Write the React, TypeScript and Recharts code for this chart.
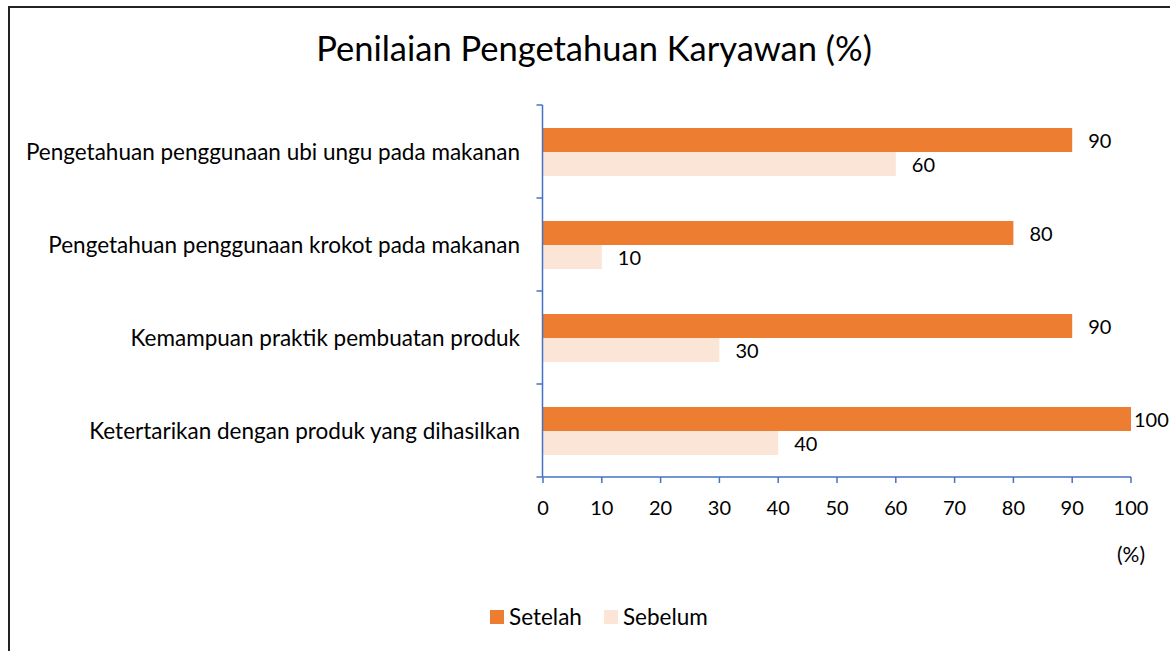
import { BarChart, Bar, XAxis, YAxis, LabelList } from 'recharts'

const categories = [
  'Pengetahuan penggunaan ubi ungu pada makanan',
  'Pengetahuan penggunaan krokot pada makanan',
  'Kemampuan praktik pembuatan produk',
  'Ketertarikan dengan produk yang dihasilkan',
]
const setelah = [90, 80, 90, 100]
const sebelum = [60, 10, 30, 40]
const xTicks = [0, 10, 20, 30, 40, 50, 60, 70, 80, 90, 100]

const series = [
  { key: 'setelah', name: 'Setelah', color: '#ED7D31' },
  { key: 'sebelum', name: 'Sebelum', color: '#FBE5D6' },
]

const data = categories.map((c, i) => ({ kategori: c, setelah: setelah[i], sebelum: sebelum[i] }))

// the helper number axis spans index 0..n-1 over the plot height; band borders sit at k/n of it
const n = categories.length
const bandEdges = Array.from({ length: n + 1 }, (_, k) => (k * (n - 1)) / n)

const FONT = 'Lato, "Open Sans", sans-serif'
const AXIS = '#4472C4'

function ValueLabel(props: any) {
  const { x, y, width, height, value } = props
  const off = value >= 100 ? 3 : 16
  return (
    <text x={x + width + off} y={y + height / 2} dominantBaseline="central" fontSize={20} fill="#000" fontFamily={FONT}>
      {value}
    </text>
  )
}

// plain text, no wrapping to the (tiny) axis width
function CatTick(props: any) {
  const { x, y, payload } = props
  return (
    <text x={x} y={y} textAnchor="end" dominantBaseline="central" fontSize={22.5} fill="#000" fontFamily={FONT}>
      {payload.value}
    </text>
  )
}

const NoLabel = () => <g />

export default function App() {
  return (
    <div style={{ position: 'fixed', inset: 0, overflow: 'hidden', background: '#fff', fontFamily: FONT }}>
      <div style={{ position: 'absolute', left: 8, top: 6, width: 1200, height: 700, borderLeft: '2px solid #222', borderTop: '2px solid #222' }} />
      <div style={{ position: 'absolute', left: 0, top: 0 }}>
        <BarChart
          width={1170}
          height={651}
          data={data}
          layout="vertical"
          margin={{ top: 105, right: 39, bottom: 144, left: 0 }}
          barGap={0}
          barSize={24}
        >
          <XAxis
            type="number"
            domain={[0, 100]}
            ticks={xTicks}
            interval={0}
            height={30}
            stroke={AXIS}
            strokeWidth={1.5}
            tickSize={6}
            tickMargin={18}
            tick={{ fill: '#000', fontSize: 20, fontFamily: FONT }}
          />
          {/* category labels sit on the inner axis; the outer one draws the blue line with boundary ticks */}
          <YAxis
            yAxisId="cat"
            type="category"
            dataKey="kategori"
            width={0.5}
            axisLine={false}
            tickLine={false}
            tickMargin={17}
            tick={CatTick}
          />
          <YAxis
            yAxisId="grid"
            type="number"
            domain={[0, n - 1]}
            allowDataOverflow
            ticks={bandEdges}
            interval={0}
            width={542.5}
            axisLine={{ stroke: AXIS, strokeWidth: 1.5 }}
            tickLine={{ stroke: AXIS, strokeWidth: 1.5 }}
            tickSize={6}
            tick={NoLabel}
          />
          {series.map((s) => (
            <Bar key={s.key} yAxisId="cat" dataKey={s.key} name={s.name} fill={s.color} isAnimationActive={false}>
              <LabelList dataKey={s.key} content={ValueLabel} />
            </Bar>
          ))}
        </BarChart>
      </div>
      <svg width={1170} height={651} style={{ position: 'absolute', left: 0, top: 0, pointerEvents: 'none' }}>
        <text x={594} y={61} textAnchor="middle" fontSize={34.5} fontFamily={FONT} fill="#000">
          Penilaian Pengetahuan Karyawan (%)
        </text>
        <text x={1131} y={562} textAnchor="middle" fontSize={21} fontFamily={FONT} fill="#000">
          (%)
        </text>
      </svg>
      <div style={{ position: 'absolute', left: 490, top: 605, height: 24, lineHeight: '24px', display: 'flex', alignItems: 'center', fontSize: 22.5, color: '#000' }}>
        {series.map((s) => (
          <div key={s.key} style={{ display: 'flex', alignItems: 'center', marginRight: 22 }}>
            <span style={{ width: 14, height: 14, background: s.color, display: 'inline-block', marginRight: 5 }} />
            {s.name}
          </div>
        ))}
      </div>
    </div>
  )
}
